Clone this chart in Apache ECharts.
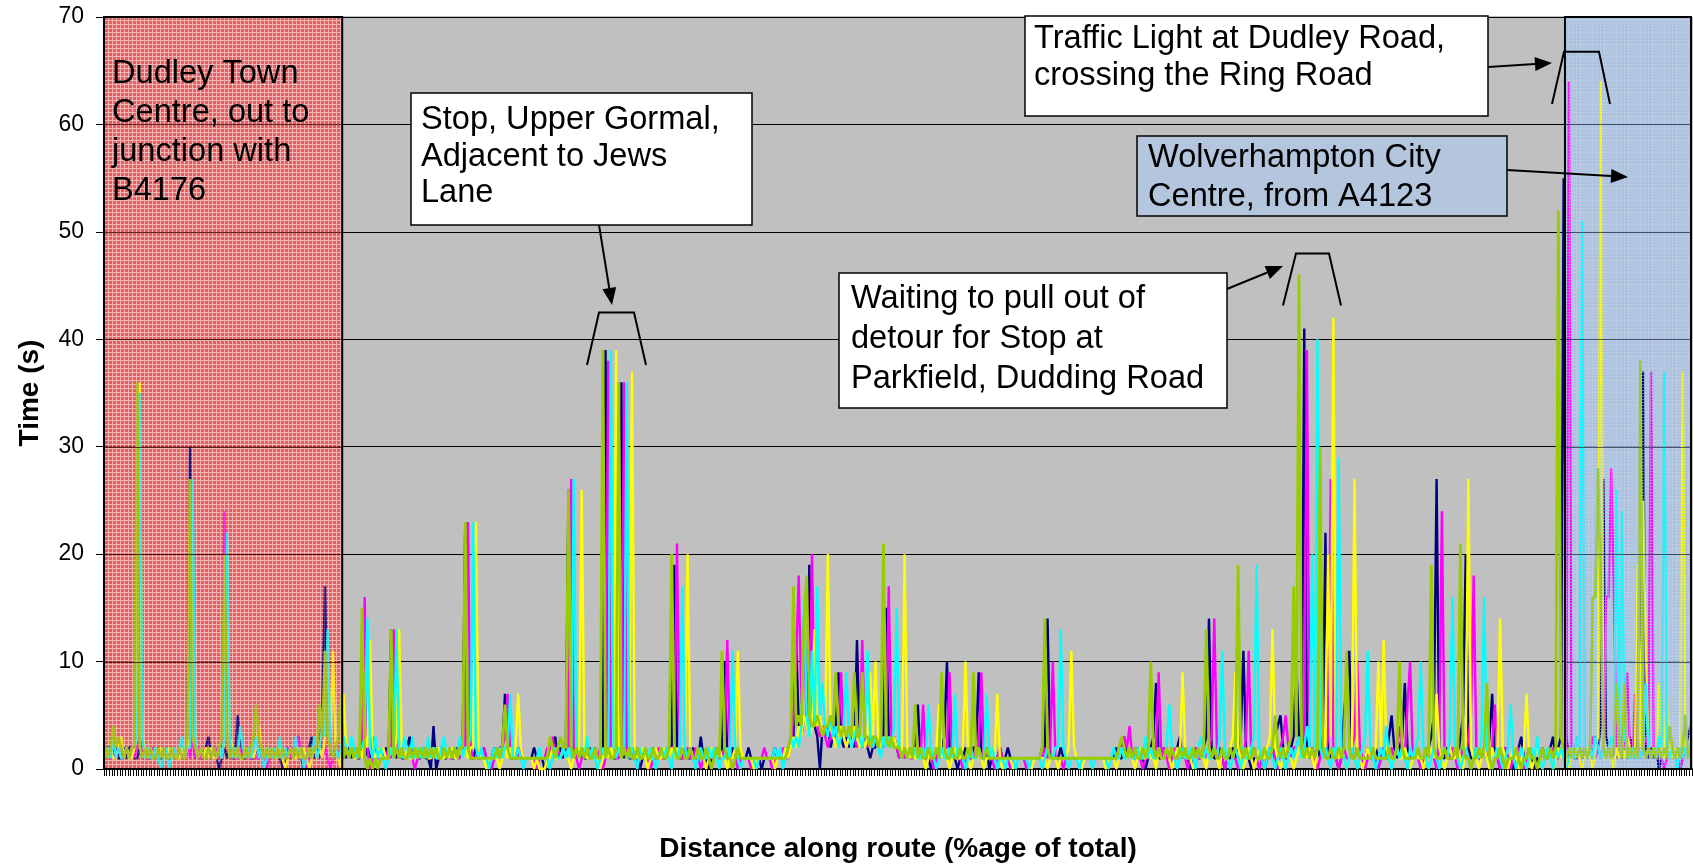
<!DOCTYPE html>
<html><head><meta charset="utf-8">
<script src="https://cdn.jsdelivr.net/npm/echarts@6/dist/echarts.min.js"></script>
<style>html,body{margin:0;padding:0;background:#fff;}#c{width:1693px;height:868px;}</style>
</head><body><div id="c"></div>
<script>
// ---- data: time (s) spent in each distance bin, one array per run ----
const navy = [
1,2,2,1,2,1,1,2,1,2,2,1,1,2,1,2,1,1,2,1,
2,1,1,2,1,1,2,1,2,1,1,2,30,3,1,2,1,1,2,3,
1,2,1,0,1,2,1,2,1,1,5,2,1,1,2,1,1,2,1,2,
1,1,2,1,2,1,1,0,1,2,1,2,1,3,1,0,1,2,3,1,
2,1,6,17,3,2,1,2,1,2,2,1,2,1,2,1,1,2,1,2,
1,3,1,2,1,1,2,1,13,2,1,2,1,1,2,3,1,2,1,1,
2,1,1,0,4,0,1,2,1,1,2,1,1,2,1,2,23,2,1,1,
2,1,1,2,1,1,1,2,1,2,2,7,2,1,1,1,2,1,1,1,
1,1,2,1,1,1,0,1,2,2,3,1,2,1,2,26,2,1,2,1,
2,1,1,2,1,2,1,1,2,39,1,2,1,1,2,36,1,2,1,1,
2,1,0,1,2,1,1,2,1,1,2,1,1,2,2,19,2,1,1,2,
1,1,2,1,1,3,1,1,0,1,1,2,1,2,10,1,1,2,1,1,
1,1,1,2,1,1,1,1,0,1,1,1,1,2,1,1,1,2,1,3,
3,12,4,3,5,4,19,5,4,3,0,4,3,4,2,3,4,9,3,2,
3,2,3,2,12,3,2,3,2,1,2,2,3,2,3,15,3,2,3,2,
1,2,1,2,1,2,2,6,1,2,1,1,0,1,2,1,2,3,10,2,
1,1,0,1,1,2,1,1,2,2,9,1,1,2,0,1,1,1,2,1,
1,2,1,1,1,1,1,1,1,1,1,1,1,1,2,2,14,1,1,1,
1,2,1,1,1,1,1,1,1,1,1,1,1,1,1,1,1,1,1,1,
1,1,2,1,1,3,1,2,1,1,2,1,1,0,1,2,3,8,1,1,
2,1,1,2,1,2,3,1,2,1,0,1,2,1,1,2,3,14,2,1,
1,2,1,0,1,1,2,1,2,3,11,2,1,0,1,1,2,1,0,1,
2,1,3,4,5,2,1,1,2,3,10,3,2,41,2,1,2,1,2,1,
3,22,2,1,2,1,0,1,5,8,11,2,1,2,1,0,1,2,1,1,
2,1,1,2,1,3,5,2,1,2,3,8,2,1,1,2,1,1,0,1,
2,3,5,27,2,1,1,2,1,1,2,1,3,5,20,2,1,1,2,1,
1,2,1,3,7,1,1,0,1,2,1,1,0,1,2,3,1,1,2,1,
0,1,1,2,1,1,2,3,1,2,3,55,3,1,2,1,1,2,1,2,
1,2,1,3,2,4,27,3,2,1,2,1,2,1,2,1,3,2,1,4,
2,37,2,1,2,1,2,0,1,2,1,2,1,2,1,0,1,2,3,4
];
const magenta = [
2,1,1,2,1,2,1,1,2,1,2,1,2,3,1,2,1,1,2,1,
1,2,1,1,2,1,2,1,1,2,1,2,1,3,1,2,1,1,2,1,
2,1,2,1,3,24,3,1,2,1,1,2,1,2,1,1,2,1,1,2,
1,0,1,2,1,1,2,1,1,2,1,2,1,3,1,2,0,1,1,2,
1,2,1,2,1,0,1,2,1,1,1,2,1,2,1,2,1,2,16,2,
0,1,2,1,1,2,1,2,1,13,2,1,2,1,1,2,1,0,1,2,
1,2,1,1,2,1,1,2,1,2,1,1,2,1,1,2,2,23,2,1,
1,2,1,2,1,1,0,1,1,2,2,3,7,2,1,1,1,2,1,1,
1,1,1,0,1,1,1,2,1,3,1,2,1,2,1,2,27,2,1,0,
1,2,1,1,2,1,1,2,0,1,38,1,2,1,1,2,36,1,2,1,
1,2,1,1,2,1,0,1,1,2,1,1,2,1,2,2,21,2,1,1,
2,1,1,2,1,0,1,1,2,1,1,2,1,1,2,12,2,1,1,0,
1,1,1,1,0,1,1,1,1,2,1,1,0,1,1,1,2,1,1,2,
5,10,18,6,14,4,3,20,5,4,3,4,3,2,3,4,3,3,9,3,
2,3,4,3,2,3,12,3,2,3,2,3,2,3,2,3,17,3,2,2,
1,2,1,2,1,1,2,2,1,6,1,2,1,0,1,2,1,2,2,9,
1,2,1,1,0,1,2,1,1,2,2,9,1,2,1,1,0,1,2,1,
1,1,0,1,1,1,1,1,0,1,1,1,1,1,1,2,1,2,10,1,
1,1,0,1,1,1,1,1,1,1,1,1,1,1,1,1,1,1,1,1,
1,1,1,2,2,3,2,4,1,2,1,1,0,1,1,2,1,2,9,1,
2,1,0,1,2,1,1,2,1,0,1,1,2,1,1,2,1,2,3,14,
2,1,1,0,1,2,1,1,0,2,1,3,11,1,2,1,0,1,1,2,
1,2,1,0,2,3,5,2,1,2,2,3,2,3,39,2,1,1,0,1,
2,1,3,27,2,1,0,1,2,1,1,2,3,10,2,1,0,1,2,1,
1,0,1,2,1,1,2,1,2,4,2,1,6,10,1,2,1,0,1,2,
1,2,1,0,3,24,2,1,1,2,1,0,1,2,1,3,5,18,2,1,
1,2,1,1,2,6,1,0,1,2,1,0,1,1,2,1,0,1,2,1,
1,2,1,0,1,2,1,2,1,1,2,1,2,64,2,1,3,2,1,2,
1,2,3,1,2,1,2,16,16,28,16,2,1,3,2,9,2,1,7,2,
1,2,3,2,37,2,1,2,1,0,1,2,1,2,1,0,1,2,1,2
];
const cyan = [
1,2,1,3,1,2,1,1,2,1,2,2,3,35,3,1,2,1,1,2,
1,0,1,2,0,1,2,1,2,3,1,2,2,27,3,1,2,1,1,2,
1,2,1,2,1,3,22,3,1,2,1,4,2,1,2,1,2,3,1,2,
0,1,2,1,2,1,3,1,2,1,2,1,3,1,2,0,1,2,1,3,
1,2,4,3,13,2,1,2,1,2,3,2,1,3,2,1,2,2,3,14,
2,1,3,1,2,1,0,1,2,1,13,2,1,3,2,1,3,1,2,1,
2,1,3,1,2,1,1,2,3,1,2,1,2,1,3,1,2,2,3,23,
2,1,2,1,1,0,1,2,1,2,1,2,2,7,1,1,2,1,0,1,
1,1,1,1,2,1,1,1,0,1,2,1,1,2,1,2,1,27,2,1,
2,1,3,1,2,1,0,1,2,1,2,39,2,1,2,1,2,36,1,2,
1,0,2,1,2,1,2,1,0,1,2,1,2,1,0,2,1,2,17,2,
1,2,1,0,1,2,1,1,2,1,2,1,0,1,1,2,1,11,2,1,
0,1,1,1,1,1,0,1,1,1,1,1,1,2,1,2,0,1,2,3,
2,3,2,4,16,5,3,11,4,17,5,8,4,3,5,3,4,2,3,4,
9,3,2,3,4,3,2,4,11,3,2,3,2,1,3,2,3,2,4,15,
2,1,2,1,2,1,2,1,1,2,1,6,2,1,0,1,2,1,1,2,
1,7,1,2,1,0,1,2,1,1,2,1,1,7,1,2,1,0,1,1,
0,1,1,1,0,1,1,1,1,0,1,1,1,1,0,1,2,1,1,2,
2,13,2,1,0,1,1,1,0,1,1,1,1,0,1,1,1,1,1,0,
1,2,1,1,2,1,1,2,1,1,2,1,1,3,1,2,1,1,2,1,
1,2,6,2,1,0,1,2,1,1,2,1,0,2,3,1,2,1,1,2,
1,3,11,2,1,0,1,2,1,0,2,1,1,2,3,19,2,1,0,1,
2,1,0,1,2,1,0,1,2,1,2,3,1,2,4,2,20,2,40,2,
1,2,1,0,2,1,29,2,1,0,1,2,1,0,1,2,3,11,2,1,
0,1,2,1,4,1,0,1,2,1,2,1,0,2,1,2,3,10,2,1,
0,1,2,1,0,1,2,1,3,16,2,1,0,1,2,1,0,1,2,1,
3,16,2,1,0,1,2,1,0,1,2,6,1,0,1,2,1,0,1,2,
1,3,1,0,1,2,1,0,2,1,2,1,0,1,2,1,3,2,51,2,
1,2,1,3,2,1,2,1,2,3,2,26,2,24,3,2,1,2,1,2,
1,2,8,2,1,2,1,3,2,37,2,1,2,1,0,2,1,2,1,3
];
const yellow = [
2,1,2,1,1,2,3,1,2,1,1,2,3,36,3,2,1,2,1,2,
1,2,1,1,2,1,2,1,1,2,1,2,3,21,3,1,2,1,2,1,
2,1,1,2,1,3,20,3,2,1,2,1,1,2,1,2,1,2,4,2,
1,2,1,2,1,1,2,1,0,1,2,1,1,2,1,2,1,0,1,2,
1,2,1,3,11,3,11,2,1,0,7,2,1,2,1,1,2,1,3,2,
12,2,1,2,1,2,1,1,2,1,3,13,2,1,2,1,1,2,1,2,
1,2,1,1,2,1,2,1,1,2,1,2,1,1,2,1,2,1,2,2,
23,2,1,1,0,1,1,1,1,0,1,2,1,2,1,2,7,2,1,1,
1,1,0,1,0,0,0,1,1,2,1,1,1,2,1,1,0,1,2,1,
26,2,1,1,2,1,1,0,1,2,1,2,1,39,2,1,2,1,2,37,
2,1,1,2,1,0,1,1,2,1,1,2,1,1,2,1,2,1,2,2,
20,2,1,1,2,1,1,0,1,2,1,1,2,1,1,0,1,1,2,11,
2,1,1,1,1,0,1,1,1,1,1,1,1,0,1,1,1,2,1,2,
3,2,4,3,5,4,3,4,13,4,5,3,4,20,4,3,2,3,4,3,
2,3,2,4,3,2,3,2,3,9,3,10,3,2,3,2,3,2,3,2,
2,1,20,2,1,2,1,1,2,1,0,1,2,1,2,6,1,2,1,0,
1,2,1,1,2,10,1,0,1,1,2,1,0,1,1,2,1,7,1,0,
1,1,1,0,1,1,1,1,1,1,0,1,1,1,1,1,0,1,1,1,
0,1,1,1,2,11,2,1,1,0,1,1,1,1,1,1,1,1,0,1,
1,1,0,1,2,1,1,2,1,0,1,2,1,1,2,1,1,0,2,1,
1,2,1,0,1,2,1,9,2,1,1,0,1,2,1,1,0,2,1,2,
1,0,2,1,1,2,3,9,2,1,0,1,2,1,0,1,2,1,1,2,
3,13,2,1,0,1,2,1,1,0,1,2,1,2,1,2,1,0,2,3,
4,2,20,3,42,2,1,2,1,0,1,2,27,2,1,0,1,2,1,1,
2,10,2,12,2,1,0,1,2,1,1,2,1,0,1,2,1,1,0,1,
1,2,1,7,2,1,0,1,2,1,1,2,1,0,2,27,2,1,1,0,
1,2,1,0,2,1,2,14,2,1,0,1,2,1,0,1,2,7,1,0,
1,2,1,0,1,2,1,0,1,2,1,2,1,0,2,1,2,1,0,1,
2,1,0,2,3,64,2,1,2,1,0,2,1,2,1,3,2,1,2,19,
2,25,12,2,1,2,1,8,2,1,7,2,1,2,1,2,37,2,1,2
];
const olive = [
2,1,2,4,2,3,2,1,2,1,2,2,36,2,1,2,1,2,1,1,
2,1,2,1,1,2,1,1,2,1,1,3,27,3,2,1,2,1,1,2,
1,2,1,2,3,20,3,1,2,1,2,1,1,2,1,2,3,6,3,2,
1,2,1,2,1,2,1,2,1,1,2,1,2,1,2,1,1,2,1,2,
2,6,3,11,3,2,1,2,3,7,1,2,1,2,1,2,1,15,1,0,
1,0,1,0,1,1,1,1,13,1,2,1,2,1,1,2,1,2,1,2,
1,2,1,2,1,2,1,1,2,1,2,1,2,1,2,2,23,2,1,1,
1,1,1,1,1,1,1,1,2,1,2,6,2,1,1,1,1,1,1,1,
1,1,1,1,1,1,1,1,3,2,1,2,3,2,2,26,2,1,2,1,
2,1,2,1,1,2,1,1,39,1,2,1,1,2,36,1,2,1,2,1,
1,2,1,1,2,1,1,2,1,1,2,1,1,2,20,2,1,1,2,1,
1,2,1,1,2,1,1,2,1,0,1,2,1,11,2,1,1,0,1,2,
1,1,1,1,1,1,1,1,1,1,1,1,1,1,1,1,1,1,2,3,
17,4,5,4,14,18,5,4,4,5,4,3,4,4,5,4,9,4,3,4,
3,4,3,9,3,3,9,3,3,2,3,3,2,3,21,3,2,3,2,2,
2,1,2,1,2,1,6,1,2,1,1,2,1,1,2,1,9,2,1,1,
2,1,1,2,1,1,2,1,9,1,2,1,1,2,1,1,1,1,1,1,
1,1,1,1,1,1,1,1,1,1,1,1,1,1,2,14,2,1,1,1,
1,1,1,1,1,1,1,1,1,1,1,1,1,1,1,1,1,1,1,1,
1,1,1,2,3,2,1,2,1,2,1,1,2,1,2,10,2,1,2,1,
1,2,1,2,1,1,2,1,2,1,1,2,1,2,1,2,13,2,1,2,
1,1,2,1,1,2,1,2,19,2,1,2,1,1,2,1,1,1,2,1,
1,2,5,2,1,2,1,2,3,17,3,46,2,1,2,1,2,1,2,30,
2,1,1,2,1,1,2,1,2,11,2,1,1,2,1,1,1,1,1,2,
1,1,1,1,1,2,1,1,2,10,2,1,1,1,1,1,2,1,1,2,
1,19,2,1,1,1,2,1,1,1,2,1,21,2,1,1,0,1,1,2,
1,2,8,1,0,1,1,2,1,0,1,1,1,2,1,0,1,1,2,1,
1,0,1,2,1,1,2,1,2,52,3,2,1,2,1,2,1,2,1,2,
1,2,16,16,28,16,2,1,2,1,2,8,2,1,8,1,2,1,2,1,
38,2,1,2,1,2,1,2,1,2,1,4,2,1,2,1,2,5,1,2
];
// distance bins (category axis, labels hidden)
const categories = navy.map((v, i) => String(i));
// y-axis ticks
const yTicks = [0, 10, 20, 30, 40, 50, 60, 70];
// shaded route sections, as first/last distance bin
const redSection = [0, 89];
const blueSection = [552, 599];

// ---- styling / layout ----
const FONT = 'Liberation Sans';
function makePattern(base, line, size) {
  const c = document.createElement('canvas');
  c.width = c.height = size;
  const g = c.getContext('2d');
  if (base) { g.fillStyle = base; g.fillRect(0, 0, size, size); }
  g.clearRect(0, 0, size, 1); g.clearRect(0, 0, 1, size);
  g.fillStyle = line; g.fillRect(0, 0, size, 1); g.fillRect(0, 1, 1, size - 1);
  return c;
}
const redUnder = makePattern('rgba(255,45,45,0.64)', 'rgba(250,175,175,0.72)', 4);
const redOver = makePattern('rgba(255,60,60,0.14)', 'rgba(250,190,190,0.3)', 4);
const blueUnder = makePattern('rgba(165,200,245,0.72)', 'rgba(190,210,235,0.75)', 4);
const blueOver = makePattern(null, 'rgba(170,192,222,0.55)', 3);

const seriesDefs = [
  {name: 'Run 1', data: navy, color: '#000080', w: 2.4},
  {name: 'Run 2', data: magenta, color: '#FF00FF', w: 2.4},
  {name: 'Run 3', data: yellow, color: '#FFFF00', w: 2.4},
  {name: 'Run 4', data: cyan, color: '#00FFFF', w: 2.4},
  {name: 'Run 5', data: olive, color: '#99CC00', w: 2.8}
];

const chart = echarts.init(document.getElementById('c'), null, {renderer: 'canvas'});
const option = {
  animation: false,
  backgroundColor: '#FFFFFF',
  grid: {left: 104, right: 1, top: 17, bottom: 99, show: true,
    backgroundColor: '#C0C0C0', borderColor: '#808080', borderWidth: 1},
  xAxis: {
    type: 'category', data: categories, boundaryGap: true,
    axisLine: {show: true, lineStyle: {color: '#000', width: 2}},
    axisTick: {show: true, interval: 0, length: 7, lineStyle: {color: '#000', width: 1}},
    axisLabel: {show: false},
    splitLine: {show: false},
    name: 'Distance along route (%age of total)', nameLocation: 'middle', nameGap: 66,
    nameTextStyle: {fontFamily: FONT, fontSize: 28, fontWeight: 'bold', color: '#000'}
  },
  yAxis: {
    type: 'value', min: yTicks[0], max: yTicks[yTicks.length - 1], interval: yTicks[1] - yTicks[0],
    axisLine: {show: true, lineStyle: {color: '#000', width: 2}},
    axisTick: {show: true, length: 8, lineStyle: {color: '#000', width: 1}},
    axisLabel: {fontFamily: FONT, fontSize: 23, color: '#000', margin: 20},
    splitLine: {show: true, lineStyle: {color: '#000', width: 1}},
    name: 'Time (s)', nameLocation: 'middle', nameGap: 60, nameRotate: 90,
    nameTextStyle: {fontFamily: FONT, fontSize: 28, fontWeight: 'bold', color: '#000'}
  },
  series: seriesDefs.map(s => ({
    name: s.name, type: 'line', data: s.data, showSymbol: false, symbol: 'none',
    silent: true, z: 2,
    lineStyle: {color: s.color, width: s.w, join: 'bevel'}, itemStyle: {color: s.color}
  }))
};
chart.setOption(option);

// ---- overlays and annotations ----
const c0 = chart.convertToPixel({xAxisIndex: 0}, categories[0]);
const c1 = chart.convertToPixel({xAxisIndex: 0}, categories[1]);
const bw = c1 - c0;
const leftEdge = i => chart.convertToPixel({xAxisIndex: 0}, categories[i]) - bw / 2;
const rightEdge = i => chart.convertToPixel({xAxisIndex: 0}, categories[i]) + bw / 2;
const yT = chart.convertToPixel({yAxisIndex: 0}, yTicks[yTicks.length - 1]);
const yB = chart.convertToPixel({yAxisIndex: 0}, yTicks[0]);

function arrowEls(x1, y1, x2, y2) {
  const a = Math.atan2(y2 - y1, x2 - x1), L = 17, W = 7;
  const bx = x2 - L * Math.cos(a), by = y2 - L * Math.sin(a);
  const px = -Math.sin(a) * W, py = Math.cos(a) * W;
  return [
    {type: 'line', z: 30, silent: true, shape: {x1, y1, x2: bx, y2: by}, style: {stroke: '#000', lineWidth: 2}},
    {type: 'polygon', z: 30, silent: true, shape: {points: [[x2, y2], [bx + px, by + py], [bx - px, by - py]]}, style: {fill: '#000'}}
  ];
}
function bracket(pts) {
  return {type: 'polyline', z: 30, silent: true, shape: {points: pts}, style: {stroke: '#000', lineWidth: 2, fill: null}};
}
function box(x, y, w, h, fill) {
  return {type: 'rect', z: 28, silent: true, shape: {x, y, width: w, height: h}, style: {fill, stroke: '#000', lineWidth: 1.5}};
}
function label(x, y, text, lh) {
  return {type: 'text', z: 31, silent: true, x, y,
    style: {text, fontFamily: FONT, fontSize: 32.6, fill: '#000', lineHeight: lh, align: 'left', verticalAlign: 'top'}};
}
function section(xa, xb, under, over, gridColor) {
  const out = [
    {type: 'rect', z: 1, silent: true, shape: {x: xa, y: yT, width: xb - xa, height: yB - yT},
      style: {fill: {image: under, repeat: 'repeat'}}},
    {type: 'rect', z: 20, silent: true, shape: {x: xa, y: yT, width: xb - xa, height: yB - yT},
      style: {fill: {image: over, repeat: 'repeat'}, stroke: '#000', lineWidth: 2}}
  ];
  // grid rules re-drawn across the shaded section (as thin filled strips)
  yTicks.slice(1, -1).forEach(t => {
    const gy = Math.round(chart.convertToPixel({yAxisIndex: 0}, t));
    out.push({type: 'rect', z: 21, silent: true,
      shape: {x: xa + 1, y: gy, width: xb - xa - 2, height: 1},
      style: {fill: gridColor}});
  });
  return out;
}

const els = [];
els.push(...section(leftEdge(redSection[0]), rightEdge(redSection[1]), redUnder, redOver, 'rgba(70,10,10,0.8)'));
els.push(...section(leftEdge(blueSection[0]), rightEdge(blueSection[1]) - 1, blueUnder, blueOver, 'rgba(40,50,75,0.75)'));

els.push(label(112, 55, 'Dudley Town\nCentre, out to\njunction with\nB4176', 39));

els.push(box(411, 93, 341, 132, '#FFFFFF'));
els.push(label(421, 102, 'Stop, Upper Gormal,\nAdjacent to Jews\nLane', 36.5));
els.push(...arrowEls(599, 225, 612, 305));
els.push(bracket([[587, 365], [599, 312.5], [634, 312.5], [646, 365]]));

els.push(box(839, 273, 388, 135, '#FFFFFF'));
els.push(label(851, 279, 'Waiting to pull out of\ndetour for Stop at\nParkfield, Dudding Road', 40));
els.push(...arrowEls(1227, 289, 1283, 266));
els.push(bracket([[1283, 305.5], [1296, 253.5], [1329, 253.5], [1341, 305.5]]));

els.push(box(1025, 16, 463, 100, '#FFFFFF'));
els.push(label(1034, 21, 'Traffic Light at Dudley Road,\ncrossing the Ring Road', 37));
els.push(...arrowEls(1488, 67, 1552, 63));
els.push(bracket([[1552, 104], [1564, 51.7], [1599, 51.7], [1610, 104]]));

els.push(box(1137, 136, 370, 80, '#B4C6DD'));
els.push(label(1148, 139, 'Wolverhampton City\nCentre, from A4123', 39));
els.push(...arrowEls(1507, 170, 1628, 177));

chart.setOption({graphic: {elements: els}});
</script>
</body></html>
